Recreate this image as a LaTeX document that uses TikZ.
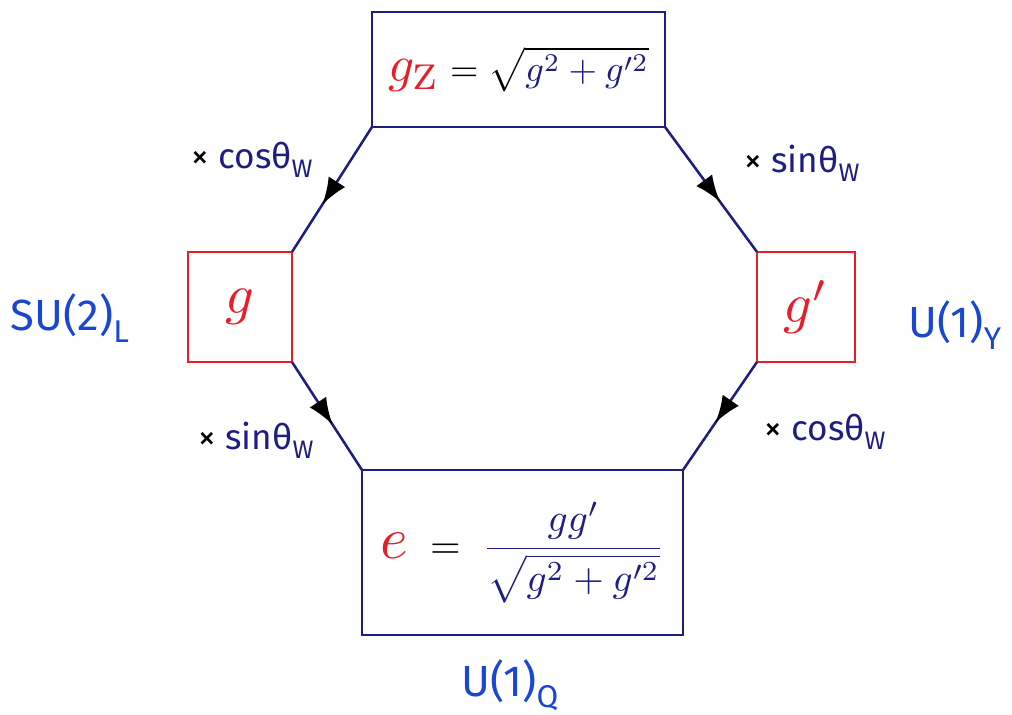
\documentclass[tikz,border=0pt]{standalone}
\usepackage{fontspec}
\newfontfamily\hand{Fira Sans}
\usetikzlibrary{arrows.meta,decorations.markings}
\definecolor{navy}{RGB}{30,30,130}
\definecolor{inkred}{RGB}{230,30,40}
\definecolor{inkblue}{RGB}{25,70,210}
\newcommand\lsub[1]{\raisebox{-0.5ex}{\scalebox{0.72}{#1}}}
\begin{document}
\begin{tikzpicture}[x=0.025cm,y=-0.025cm,
  bluebox/.style={draw=navy, line width=1.8pt, inner sep=0pt, outer sep=0pt},
  redbox/.style={draw=inkred, line width=1.8pt, inner sep=0pt, outer sep=0pt},
  flow/.style={draw=navy, line width=1.8pt, postaction={decorate},
    decoration={markings, mark=at position #1 with {\arrow[black]{Latex[length=19pt,width=14pt]}}}},
  flow/.default=0.58,
  factor/.style={font=\hand\fontsize{25}{27}\selectfont, text=navy},
  group/.style={font=\hand\fontsize{31}{33}\selectfont, text=inkblue}]
\useasboundingbox (0,0) rectangle (1012,715);
\node[bluebox, minimum width=7.325cm, minimum height=2.875cm] (top) at (518.5,69.5)
  {\scalebox{2.6}{$\color{inkred}\scalebox{1.4}{$g_{\mathrm{Z}}$}\color{black}=\sqrt{\color{navy}g^2+g'^2}$}};
\node[redbox, minimum width=2.6cm, minimum height=2.75cm] (left) at (240,307)
  {\scalebox{4}{$\color{inkred}g$}};
\node[redbox, minimum width=2.45cm, minimum height=2.75cm] (right) at (806,307)
  {\scalebox{4}{$\color{inkred}g'$}};
\node[bluebox, minimum width=8.025cm, minimum height=4.125cm] (bot) at (522.5,552.5)
  {\scalebox{2.8}{$\displaystyle\color{inkred}\scalebox{1.5}{$e$}\;\color{black}=\;\color{navy}\frac{gg'}{\sqrt{g^2+g'^2}}$}};
\draw[flow=0.62] (top.south west) -- (left.north east);
\draw[flow=0.6] (top.south east) -- (right.north west);
\draw[flow=0.58] (left.south east) -- (bot.north west);
\draw[flow=0.56] (right.south west) -- (bot.north east);
\node[factor] (f1) at (252,160) {\textcolor{black}{×} cosθ\lsub{W}};
\node[factor] (f2) at (802,163) {\textcolor{black}{×} sinθ\lsub{W}};
\node[factor] (f3) at (256,440) {\textcolor{black}{×} sinθ\lsub{W}};
\node[factor] (f4) at (825,432) {\textcolor{black}{×} cosθ\lsub{W}};
\node[group] (su2) at (70,318) {SU(2)\lsub{L}};
\node[group] (u1y) at (955,325) {U(1)\lsub{Y}};
\node[group] (u1q) at (510,685) {U(1)\lsub{Q}};
\end{tikzpicture}
\end{document}
